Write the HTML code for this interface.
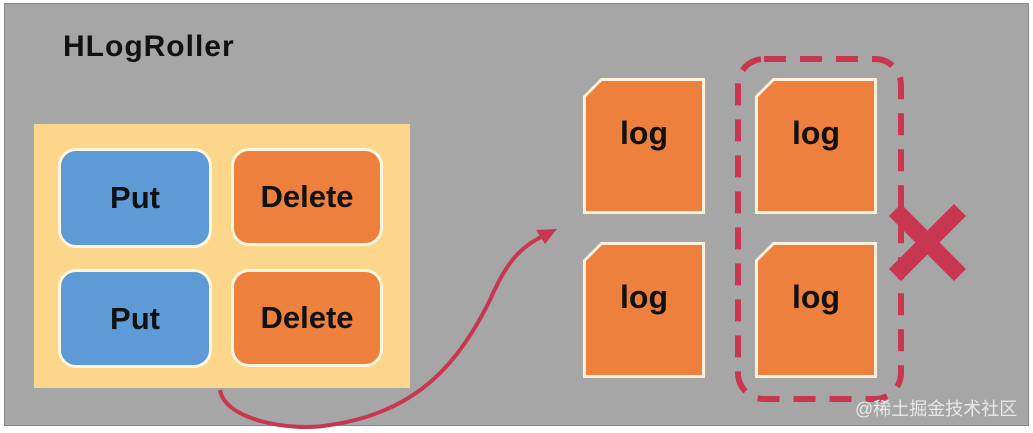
<!DOCTYPE html>
<html><head><meta charset="utf-8"><style>
body{margin:0;width:1033px;height:433px;background:#fff;overflow:hidden;position:relative;font-family:"Liberation Sans","Noto Sans CJK SC",sans-serif}
.p{position:absolute;left:4px;top:3px;width:1023px;height:421px;background:#a6a6a6;border:1px solid #8a8a8a}
.t{position:absolute;left:63px;top:30px;font-size:30px;font-weight:bold;color:#111;letter-spacing:1px}
.y{position:absolute;left:34px;top:124px;width:376px;height:264px;background:#fcd68a}
.b{position:absolute;border:3px solid #fff6e0;border-radius:18px;box-sizing:border-box;display:flex;align-items:center;justify-content:center;font-size:31px;font-weight:bold;color:#111}
.bl{background:#5e9ad6}.or{background:#ec803c}
.l{position:absolute;width:122px;height:136px;background:#fdf1dc;clip-path:polygon(18px 0,100% 0,100% 100%,0 100%,0 18px)}
.l div{position:absolute;left:3px;top:3px;right:3px;bottom:3px;background:#ec803c;clip-path:polygon(16px 0,100% 0,100% 100%,0 100%,0 16px);text-align:center;font-size:32px;font-weight:bold;color:#111;padding-top:34px;box-sizing:border-box}
.w{position:absolute;left:855px;top:395px;font-size:18px;color:#e8e8e8}
</style></head><body>
<div class="p"></div>
<div class="t">HLogRoller</div>
<div class="y"></div>
<div class="b bl" style="left:58px;top:148px;width:154px;height:100px">Put</div>
<div class="b or" style="left:231px;top:148px;width:152px;height:98px">Delete</div>
<div class="b bl" style="left:58px;top:269px;width:154px;height:99px">Put</div>
<div class="b or" style="left:231px;top:269px;width:152px;height:98px">Delete</div>
<div class="l" style="left:583px;top:78px"><div>log</div></div>
<div class="l" style="left:583px;top:242px"><div>log</div></div>
<div class="l" style="left:755px;top:78px"><div>log</div></div>
<div class="l" style="left:755px;top:242px"><div>log</div></div>
<svg width="1033" height="433" style="position:absolute;left:0;top:0">
<rect x="738" y="59" width="163" height="340" rx="26" fill="none" stroke="#c8374f" stroke-width="6" stroke-dasharray="22 14"/>
<path d="M220 390 C225 420 290 432 330 425 C420 412 460 360 490 300 C505 265 520 245 548 234" fill="none" stroke="#c8374f" stroke-width="4"/>
<polygon points="557,229 536,230 545,244" fill="#c8374f"/>
<g stroke="#c8374f" stroke-width="17"><line x1="895" y1="210" x2="960" y2="275"/><line x1="960" y1="210" x2="895" y2="275"/></g>
</svg>
<div class="w">@稀土掘金技术社区</div>
</body></html>
